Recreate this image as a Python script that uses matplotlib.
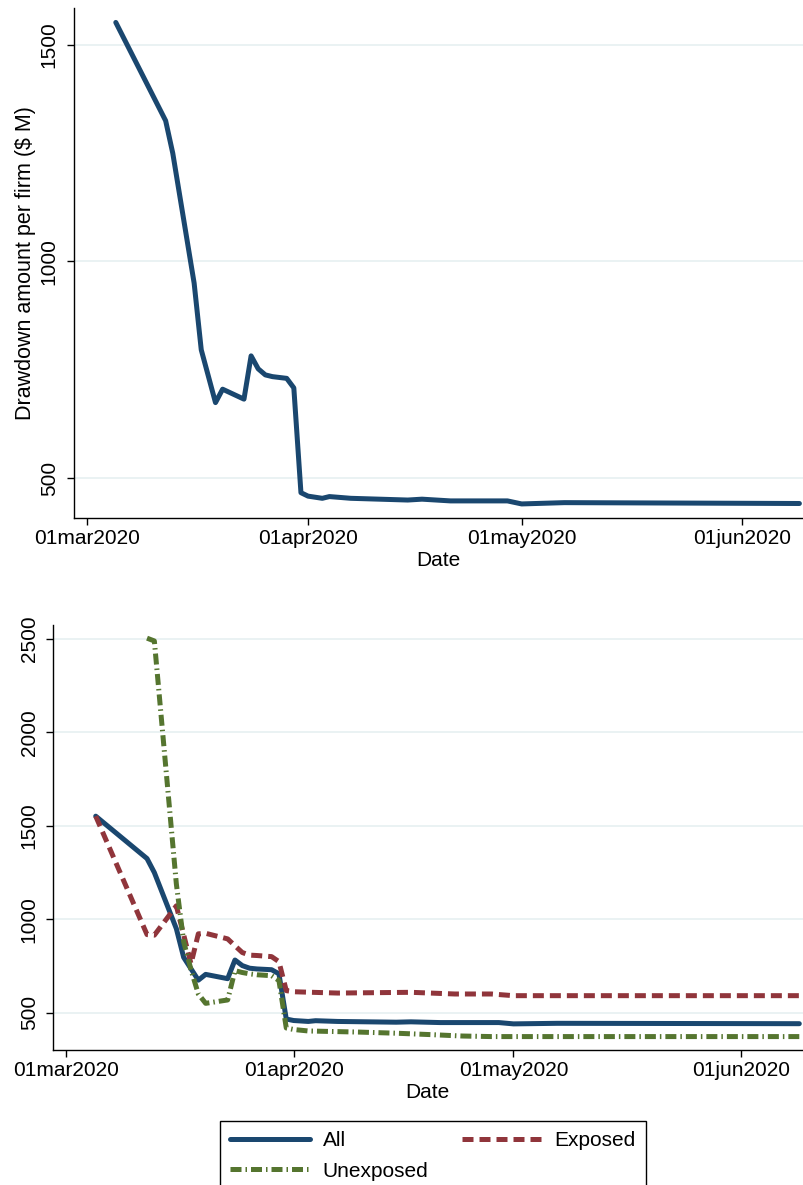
import matplotlib
matplotlib.use("Agg")
from matplotlib import pyplot as plt
import pandas as pd

plt.rcParams['font.family'] = ['Liberation Sans', 'DejaVu Sans']

# drawdown per firm, all firms
all_dates = ['2020-03-05', '2020-03-12', '2020-03-13', '2020-03-16', '2020-03-17',
             '2020-03-19', '2020-03-20', '2020-03-23', '2020-03-24', '2020-03-25',
             '2020-03-26', '2020-03-27', '2020-03-29', '2020-03-30', '2020-03-31',
             '2020-04-01', '2020-04-03', '2020-04-04', '2020-04-07', '2020-04-15',
             '2020-04-17', '2020-04-21', '2020-04-29', '2020-05-01', '2020-05-07',
             '2020-06-09']
all_values = [1552, 1325, 1250, 950, 796,
              674, 705, 682, 782, 752,
              738, 734, 730, 708, 466,
              458, 453, 457, 453, 449,
              451, 447, 447, 440, 443,
              441]

# exposed firms
exp_dates = ['2020-03-05', '2020-03-12', '2020-03-13', '2020-03-16', '2020-03-18',
             '2020-03-19', '2020-03-20', '2020-03-23', '2020-03-24', '2020-03-25',
             '2020-03-26', '2020-03-27', '2020-03-29', '2020-03-30', '2020-03-31',
             '2020-04-01', '2020-04-07', '2020-04-17', '2020-04-23', '2020-04-28',
             '2020-05-01', '2020-06-09']
exp_values = [1552, 918, 915, 1072, 762,
              922, 925, 895, 858, 822,
              808, 806, 800, 773, 618,
              612, 605, 609, 600, 600,
              591, 591]

# unexposed firms
unexp_dates = ['2020-03-12', '2020-03-13', '2020-03-16', '2020-03-17', '2020-03-18',
               '2020-03-19', '2020-03-20', '2020-03-23', '2020-03-24', '2020-03-25',
               '2020-03-26', '2020-03-27', '2020-03-29', '2020-03-30', '2020-03-31',
               '2020-04-01', '2020-04-03', '2020-04-10', '2020-04-15', '2020-04-20',
               '2020-04-24', '2020-04-28', '2020-05-01', '2020-06-09']
unexp_values = [2505, 2490, 1190, 880, 730,
                600, 550, 568, 725, 715,
                708, 703, 698, 672, 418,
                410, 402, 396, 390, 382,
                375, 372, 372, 372]

tick_dates = ['2020-03-01', '2020-04-01', '2020-05-01', '2020-06-01']
tick_labels = ['01mar2020', '01apr2020', '01may2020', '01jun2020']

NAVY = '#1a476f'
MAROON = '#90353b'
GREEN = '#55752f'
GRID = '#eaf2f3'
FS = 15
LW = 3.6

x_lo = pd.Timestamp('2020-03-01') - pd.Timedelta(hours=45)
x_hi = pd.Timestamp('2020-03-01') + pd.Timedelta(hours=2412)


def style_axes(ax, yticks, ypad):
    ax.set_xlim(x_lo, x_hi)
    ax.set_xticks(pd.to_datetime(tick_dates))
    ax.set_xticklabels(tick_labels)
    ax.set_yticks(yticks)
    ax.set_yticklabels([str(v) for v in yticks], rotation=90, va='center')
    ax.grid(axis='y', color=GRID, lw=1.4)
    ax.set_axisbelow(True)
    for side in ['top', 'right']:
        ax.spines[side].set_visible(False)
    for side in ['left', 'bottom']:
        ax.spines[side].set_color('black')
        ax.spines[side].set_linewidth(1)
    ax.tick_params(axis='both', length=5, width=1, labelsize=FS)
    ax.tick_params(axis='x', pad=3)
    ax.tick_params(axis='y', pad=ypad)
    ax.set_xlabel('Date', fontsize=FS, labelpad=2)


fig = plt.figure(figsize=(8.04, 11.85), dpi=100)

# top panel: all firms
ax1 = fig.add_axes([0.0920, 0.5629, 0.9067, 0.4304])
ax1.plot(pd.to_datetime(all_dates), all_values, color=NAVY, lw=LW,
         solid_joinstyle='round', solid_capstyle='round')
ax1.set_ylim(407.6, 1585.5)
style_axes(ax1, [500, 1000, 1500], 6)
ax1.set_ylabel('Drawdown amount per firm ($ M)', fontsize=15.5, labelpad=3)

# bottom panel: exposed vs unexposed
ax2 = fig.add_axes([0.0655, 0.1139, 0.9332, 0.3586])
l_all, = ax2.plot(pd.to_datetime(all_dates), all_values, color=NAVY, lw=LW,
                  solid_joinstyle='round', solid_capstyle='round', label='All')
l_exp, = ax2.plot(pd.to_datetime(exp_dates), exp_values, color=MAROON, lw=LW,
                  dashes=(2.2, 1.2), label='Exposed')
l_unexp, = ax2.plot(pd.to_datetime(unexp_dates), unexp_values, color=GREEN, lw=LW,
                    dashes=(2.2, 0.8, 0.3, 0.8), label='Unexposed')
ax2.set_ylim(300, 2575)
style_axes(ax2, [500, 1000, 1500, 2000, 2500], 5)

leg = fig.legend([l_all, l_unexp, l_exp], ['All', 'Unexposed', 'Exposed'],
                 loc='upper center', bbox_to_anchor=(0.5386, 0.0543), ncol=2,
                 fontsize=FS, frameon=True, fancybox=False, framealpha=1,
                 edgecolor='black', handlelength=3.85, handletextpad=0.6,
                 columnspacing=1.6, labelspacing=0.55, borderpad=0.5,
                 borderaxespad=0)
leg.get_frame().set_linewidth(1)

fig.savefig('out.png', dpi=100)
plt.close(fig)
